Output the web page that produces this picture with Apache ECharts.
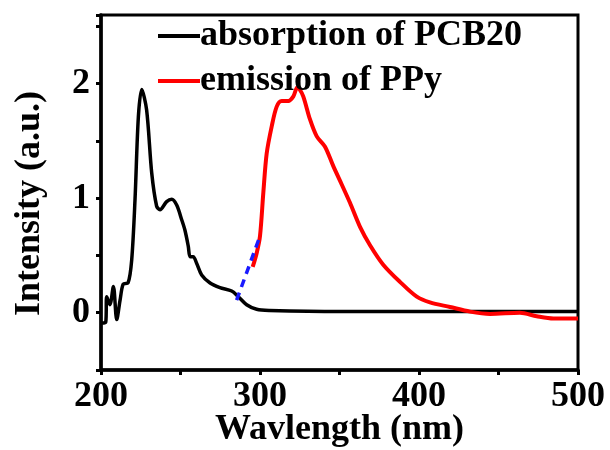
<!DOCTYPE html>
<html>
<head>
<meta charset="utf-8">
<script src="https://cdn.jsdelivr.net/npm/echarts@6/dist/echarts.min.js"></script>
<style>
  html, body { margin: 0; padding: 0; background: #fff; }
  #main { width: 610px; height: 450px; }
</style>
</head>
<body>
<div id="main"></div>
<script type="text/javascript">
// absorption of PCB20 (black)
var absX = [200.4, 203, 203.6, 205.6, 207.8, 209.9, 212, 214, 217, 219.3, 221.4, 223.5, 225.6, 228.7, 231.9, 235, 237.1, 241.3, 244.5, 247.6, 250.8, 252.8, 254.9, 256, 258, 260.2, 263.3, 268.6, 274.8, 282.2, 286.4, 291.6, 297.9, 306, 350, 400, 450, 500];
var absY = [-0.09, -0.08, 0.14, 0.07, 0.23, -0.06, 0.11, 0.25, 0.26, 0.46, 0.99, 1.71, 1.95, 1.77, 1.22, 0.93, 0.90, 0.97, 0.99, 0.94, 0.81, 0.72, 0.58, 0.49, 0.49, 0.43, 0.33, 0.26, 0.22, 0.19, 0.14, 0.07, 0.03, 0.02, 0.01, 0.01, 0.01, 0.01];
// emission of PPy (red)
var emiX = [295.4, 297.9, 300, 302.1, 304.2, 307.4, 310.5, 313.6, 317.8, 321, 323.5, 324.5, 327.2, 331.4, 335.7, 340.9, 346.1, 351.4, 356.6, 362.9, 369.2, 377.5, 388, 398.6, 406.9, 419.5, 432, 444.7, 463.5, 474, 484.5, 500];
var emiY = [0.40, 0.52, 0.67, 1.05, 1.39, 1.63, 1.80, 1.85, 1.85, 1.89, 1.97, 1.96, 1.89, 1.69, 1.54, 1.45, 1.28, 1.12, 0.96, 0.75, 0.59, 0.42, 0.27, 0.14, 0.09, 0.05, 0.01, -0.01, 0.00, -0.03, -0.05, -0.05];
// blue dashed overlap guide
var dashX = [285.3, 300];
var dashY = [0.11, 0.67];

function pairs(xs, ys) {
  var out = [];
  for (var i = 0; i < xs.length; i++) out.push([xs[i], ys[i]]);
  return out;
}

var font = 'Liberation Serif';
var myChart = echarts.init(document.getElementById('main'));
var option = {
  animation: false,
  grid: {
    left: 101, right: 32, top: 15, bottom: 80,
    outerBoundsMode: 'none', containLabel: false,
    show: true, borderColor: '#000', borderWidth: 3
  },
  legend: {
    orient: 'vertical',
    left: 153, top: 13,
    itemWidth: 42, itemHeight: 4, itemGap: 9,
    icon: 'rect',
    data: ['absorption of PCB20', 'emission of PPy'],
    textStyle: { fontFamily: font, fontWeight: 'bold', fontSize: 36, color: '#000', padding: [0, 0, 0, -5] }
  },
  xAxis: {
    type: 'value', min: 200, max: 500, interval: 50,
    name: 'Wavlength (nm)', nameLocation: 'middle', nameGap: 42, nameMoveOverlap: false,
    nameTextStyle: { fontFamily: font, fontWeight: 'bold', fontSize: 36, color: '#000' },
    axisLine: { onZero: false, lineStyle: { color: '#000', width: 3.5 } },
    axisTick: { length: 5, lineStyle: { width: 3 } },
    axisLabel: {
      margin: 9, fontFamily: font, fontWeight: 'bold', fontSize: 36, color: '#000',
      formatter: function (v) { return v % 100 === 0 ? String(v) : ''; }
    },
    splitLine: { show: false }
  },
  yAxis: {
    type: 'value', min: -0.5, max: 2.6, interval: 0.5,
    name: 'Intensity (a.u.)', nameLocation: 'middle', nameGap: 53, nameMoveOverlap: false,
    nameTextStyle: { fontFamily: font, fontWeight: 'bold', fontSize: 36, color: '#000', padding: [0, 22, 0, 0] },
    axisLine: { onZero: false, lineStyle: { color: '#000', width: 3.5 } },
    axisTick: { length: 5, lineStyle: { width: 3 } },
    axisLabel: {
      margin: 11, fontFamily: font, fontWeight: 'bold', fontSize: 36, color: '#000',
      formatter: function (v) { return Math.abs(v - Math.round(v)) < 1e-9 ? String(Math.round(v)) : ''; }
    },
    splitLine: { show: false }
  },
  series: [
    {
      name: 'absorption of PCB20', type: 'line', data: pairs(absX, absY),
      showSymbol: false, smooth: 0.3, color: '#000',
      lineStyle: { color: '#000', width: 3.5 }
    },
    {
      name: 'emission of PPy', type: 'line', data: pairs(emiX, emiY),
      showSymbol: false, smooth: 0.3, color: '#ff0000',
      lineStyle: { color: '#ff0000', width: 4 }
    },
    {
      name: 'guide', type: 'line', data: pairs(dashX, dashY),
      showSymbol: false, z: 5,
      lineStyle: { color: '#1a1aff', width: 3.5, type: [8, 6] }
    }
  ]
};
myChart.setOption(option);
</script>
</body>
</html>
